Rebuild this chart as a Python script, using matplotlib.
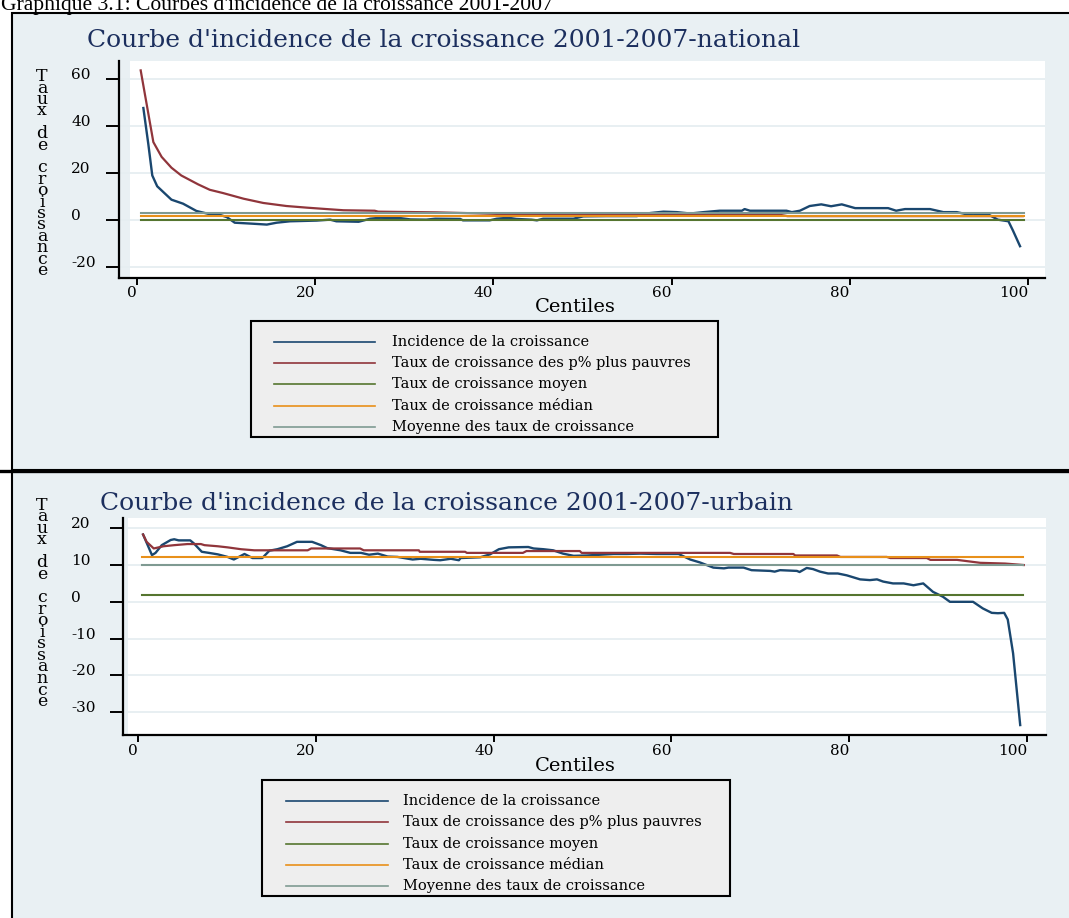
import matplotlib
matplotlib.use('Agg')
import matplotlib.pyplot as plt
from matplotlib.patches import Rectangle
from matplotlib.lines import Line2D

# ---------------- data ----------------
caption = "Graphique 3.1: Courbes d'incidence de la croissance 2001-2007"
titles = ["Courbe d'incidence de la croissance 2001-2007-national",
          "Courbe d'incidence de la croissance 2001-2007-urbain"]
ylabel = "Taux de croissance"
xlabel = "Centiles"
legend_labels = ["Incidence de la croissance",
                 "Taux de croissance des p% plus pauvres",
                 "Taux de croissance moyen",
                 "Taux de croissance médian",
                 "Moyenne des taux de croissance"]
xticks = [0, 20, 40, 60, 80, 100]
yticks_nat = [-20, 0, 20, 40, 60]
yticks_urb = [-30, -20, -10, 0, 10, 20]

# national - growth incidence curve
nat_gic_x = [0.75, 1.3, 1.75, 2.3, 3.0, 3.9, 5.2, 6.7, 8.0, 9.2, 10.1, 11.0, 12.9, 14.6, 15.7,
             17.2, 20.2, 21.7, 22.4, 24.9, 26.2, 27.3, 29.5, 30.7, 32.5, 33.5, 36.3, 36.6, 39.6,
             40.4, 41.7, 42.6, 44.3, 44.9, 45.6, 49.0, 50.1, 52.7, 56.1, 57.6, 59.1, 60.6, 62.1,
             63.6, 65.4, 67.9, 68.2, 68.8, 72.9, 73.5, 74.4, 75.5, 76.8, 77.9, 79.1, 80.6, 84.3,
             85.2, 86.2, 89.0, 90.5, 92.0, 93.1, 93.8, 95.5, 96.6, 97.8, 98.3, 99.1]
nat_gic_y = [47.8, 32.6, 19.1, 14.5, 12.0, 8.8, 7.1, 4.0, 2.8, 2.5, 1.4, -1.0, -1.4, -1.8, -1.0,
             -0.4, -0.1, 0.3, -0.4, -0.6, 0.7, 1.1, 1.0, 0.4, 0.3, 0.7, 0.6, 0.0, 0.0,
             0.7, 1.1, 0.6, 0.3, 0.0, 0.7, 0.7, 1.7, 1.8, 1.8, 3.1, 3.7, 3.5, 2.9,
             3.5, 4.1, 4.1, 4.8, 4.1, 4.1, 3.5, 4.1, 6.1, 6.8, 6.0, 6.8, 5.2, 5.2,
             4.1, 4.8, 4.8, 3.5, 3.5, 2.6, 2.8, 2.6, 0.3, -0.4, -4.3, -11.0]
# national - growth rate of the poorest p%
nat_poor_x = [0.45, 1.87, 2.8, 3.9, 5.0, 6.9, 8.2, 9.7, 12.0, 14.2, 16.8, 19.1, 21.3, 23.2,
              26.7, 27.1, 33.6, 38.0, 43.7, 72.1, 73.0, 99.4]
nat_poor_y = [63.8, 33.3, 27.0, 22.4, 19.1, 15.3, 13.0, 11.6, 9.2, 7.4, 6.1, 5.4, 4.8, 4.3,
              4.1, 3.7, 3.4, 3.0, 2.4, 2.4, 1.8, 1.8]
nat_mean_growth = 0.1
nat_median_growth = 1.8
nat_mean_of_rates = 3.1

# urban - growth incidence curve
urb_gic_x = [0.6, 1.6, 2.0, 2.7, 3.7, 4.1, 4.6, 5.9, 6.3, 7.2, 8.0, 9.0, 10.1, 10.8, 12.0, 12.9,
             14.0, 14.8, 15.7, 16.8, 17.9, 19.6, 20.6, 21.3, 22.8, 23.9, 25.1, 26.0, 27.0, 28.1,
             29.2, 30.9, 31.8, 33.3, 34.0, 35.2, 36.1, 36.3, 38.5, 39.6, 40.6, 41.7, 43.9, 44.5,
             45.6, 46.7, 47.8, 49.0, 50.5, 52.0, 53.5, 55.0, 56.5, 58.3, 60.8, 62.1, 63.2, 64.7,
             65.9, 66.4, 68.1, 69.0, 71.1, 71.6, 72.2, 74.1, 74.4, 75.2, 75.9, 76.7, 77.6, 78.7,
             79.7, 81.2, 82.3, 83.1, 83.8, 84.9, 86.1, 87.2, 88.3, 89.4, 90.5, 91.3, 93.9, 95.0,
             96.0, 96.7, 97.4, 97.8, 98.4, 99.2]
urb_gic_y = [18.3, 12.7, 13.3, 15.4, 16.8, 17.0, 16.7, 16.7, 15.9, 13.6, 13.3, 12.9, 12.2, 11.5, 13.0, 11.9,
             11.9, 13.9, 14.3, 15.1, 16.3, 16.3, 15.4, 14.6, 14.0, 13.3, 13.3, 12.8, 13.1, 12.3,
             12.2, 11.5, 11.7, 11.4, 11.3, 11.7, 11.3, 11.9, 12.1, 12.9, 14.3, 14.8, 14.9, 14.5,
             14.3, 14.0, 13.1, 12.5, 12.6, 12.8, 13.0, 13.0, 13.1, 13.0, 13.0, 11.5, 10.7, 9.3,
             9.1, 9.3, 9.3, 8.6, 8.4, 8.2, 8.6, 8.4, 8.1, 9.2, 8.9, 8.2, 7.7, 7.7,
             7.2, 6.1, 5.9, 6.1, 5.5, 5.0, 5.0, 4.5, 5.0, 2.7, 1.4, 0.0, 0.0, -1.8,
             -3.0, -3.1, -3.0, -4.8, -14.0, -33.5]
# urban - growth rate of the poorest p%
urb_poor_x = [0.6, 1.0, 1.8, 2.9, 4.1, 5.6, 7.1, 7.5, 9.0, 10.1, 11.6, 13.1, 19.1, 19.5, 25.0, 25.4,
              31.6, 31.7, 36.8, 37.0, 43.3, 43.7, 49.7, 49.9, 66.6, 67.0, 73.7, 73.9, 78.6, 79.0,
              84.2, 84.6, 88.7, 89.1, 92.1, 94.7, 97.5, 99.6]
urb_poor_y = [18.3, 16.3, 14.5, 15.1, 15.4, 15.7, 15.7, 15.4, 15.1, 14.8, 14.3, 14.0, 14.0, 14.5, 14.5, 14.0,
              14.0, 13.6, 13.6, 13.3, 13.3, 13.8, 13.8, 13.3, 13.3, 13.0, 13.0, 12.6, 12.6, 12.2,
              12.2, 11.9, 11.9, 11.4, 11.4, 10.6, 10.4, 10.0]
urb_mean_growth = 1.8
urb_median_growth = 12.2
urb_mean_of_rates = 10.1

flat_x = [0.5, 99.5]

# ---------------- style ----------------
COLORS = ['#1A476F', '#90353B', '#55752F', '#E8901A', '#7F9A92']
BG = '#E9F0F3'
GRID = '#E6EEF1'
TITLE_C = '#1C2F5E'
SERIF = 'DejaVu Serif'
plt.rcParams['font.family'] = SERIF

W, H, DPI = 1069, 918, 100
fig = plt.figure(figsize=(W / DPI, H / DPI), dpi=DPI)
fig.patch.set_facecolor('white')


def fx(p):
    return p / W


def fy(p):
    return 1 - p / H


def frect(x0, y0, x1, y1, **kw):
    r = Rectangle((fx(x0), fy(y1)), fx(x1) - fx(x0), fy(y0) - fy(y1),
                  transform=fig.transFigure, figure=fig, **kw)
    fig.patches.append(r)


def fline(x0, x1, y0, y1, **kw):
    fig.add_artist(Line2D([fx(x0), fx(x1)], [fy(y0), fy(y1)], transform=fig.transFigure, **kw))


# caption (partially cut at top, as in the source document)
fig.text(fx(1), fy(10), caption, ha='left', va='baseline', fontsize=15.6,
         family='Liberation Serif', color='black')

# panel backgrounds (drawn beneath the axes)
frect(12, 13.5, 1080, 470, facecolor=BG, edgecolor='black', lw=1.5, zorder=-2)
frect(12, 471, 1080, 930, facecolor=BG, edgecolor='black', lw=1.5, zorder=-2)
fline(0, 1069, 470.5, 470.5, color='black', lw=2.4, zorder=-1)


def make_panel(box, white_left, xlim, ylim, yticks, ytick_len, title, title_xy,
               ylab_x, ylab_y0, ylab_step, xlab_y, series, leg):
    left, top, right, bottom = box
    ax = fig.add_axes([fx(left), fy(bottom), fx(right) - fx(left), fy(top) - fy(bottom)])
    ax.set_facecolor('none')
    ax.add_patch(Rectangle(((white_left - left) / (right - left), 0),
                           1 - (white_left - left) / (right - left), 1,
                           transform=ax.transAxes, facecolor='white', edgecolor='none', zorder=0))
    ax.set_xlim(*xlim)
    ax.set_ylim(*ylim)
    ax.spines['top'].set_visible(False)
    ax.spines['right'].set_visible(False)
    for s in ['left', 'bottom']:
        ax.spines[s].set_linewidth(1.6)
        ax.spines[s].set_color('black')
    ax.set_yticks(yticks)
    ax.set_yticklabels([str(t) for t in yticks])
    ax.set_xticks(xticks)
    ax.set_xticklabels([str(t) for t in xticks])
    ax.yaxis.grid(True, color=GRID, lw=1.3, zorder=0.5)
    ax.set_axisbelow(True)
    ypad = ((left - 71) / 1.389) - ytick_len / 1.389
    ax.tick_params(axis='y', length=ytick_len / 1.389, width=1.4, pad=ypad, labelsize=11)
    ax.tick_params(axis='x', length=6.6 / 1.389, width=1.4, pad=1.5, labelsize=11)
    for lab in ax.get_yticklabels():
        lab.set_horizontalalignment('left')
        lab.set_verticalalignment('baseline')
    for lab in ax.get_xticklabels():
        lab.set_horizontalalignment('right')

    # drawn in legend order, later series on top (as in the source graph)
    (gx, gy), (px, py), mg, md, mr = series
    ax.plot(gx, gy, color=COLORS[0], lw=1.7, zorder=2.0)
    ax.plot(px, py, color=COLORS[1], lw=1.6, zorder=2.1)
    ax.plot(flat_x, [mg, mg], color=COLORS[2], lw=1.5, zorder=2.2)
    ax.plot(flat_x, [md, md], color=COLORS[3], lw=1.5, zorder=2.3)
    ax.plot(flat_x, [mr, mr], color=COLORS[4], lw=1.5, zorder=2.4)

    fig.text(fx(title_xy[0]), fy(title_xy[1]), title, ha='left', va='baseline',
             fontsize=18, color=TITLE_C)
    for i, ch in enumerate(ylabel):
        if ch != ' ':
            fig.text(fx(ylab_x), fy(ylab_y0 + i * ylab_step), ch, ha='center', va='center',
                     fontsize=12.5, color='black')
    fig.text(fx(575), fy(xlab_y), xlabel, ha='center', va='center', fontsize=14)

    lx0, ly0, lx1, ly1, row0, rstep, l0, l1, tx = leg
    frect(lx0, ly0, lx1, ly1, facecolor='#EEEEEE', edgecolor='black', lw=1.5, zorder=1)
    for i, (lab, col) in enumerate(zip(legend_labels, COLORS)):
        yy = row0 + i * rstep
        fline(l0, l1, yy, yy, color=col, lw=1.2, zorder=2)
        fig.text(fx(tx), fy(yy), lab, ha='left', va='center', fontsize=10.5, zorder=2)
    return ax


make_panel(box=(119.3, 61, 1045, 277.7), white_left=130,
           xlim=(-1.95, 101.9), ylim=(-24.4, 67.8), yticks=yticks_nat, ytick_len=12.6,
           title=titles[0], title_xy=(87, 47), ylab_x=42, ylab_y0=76.7, ylab_step=11.4,
           xlab_y=307,
           series=((nat_gic_x, nat_gic_y), (nat_poor_x, nat_poor_y),
                   nat_mean_growth, nat_median_growth, nat_mean_of_rates),
           leg=(250.7, 320.7, 718, 436.7, 341.7, 21.3, 274, 375, 391.7))

make_panel(box=(122.7, 518.3, 1046, 735), white_left=128,
           xlim=(-1.69, 102.1), ylim=(-36.2, 22.7), yticks=yticks_urb, ytick_len=13.5,
           title=titles[1], title_xy=(100, 510), ylab_x=42, ylab_y0=505, ylab_step=11.57,
           xlab_y=766,
           series=((urb_gic_x, urb_gic_y), (urb_poor_x, urb_poor_y),
                   urb_mean_growth, urb_median_growth, urb_mean_of_rates),
           leg=(262, 780, 730, 896, 801, 21.3, 286, 388, 403))

fig.savefig('out.png', dpi=DPI, facecolor='white')
